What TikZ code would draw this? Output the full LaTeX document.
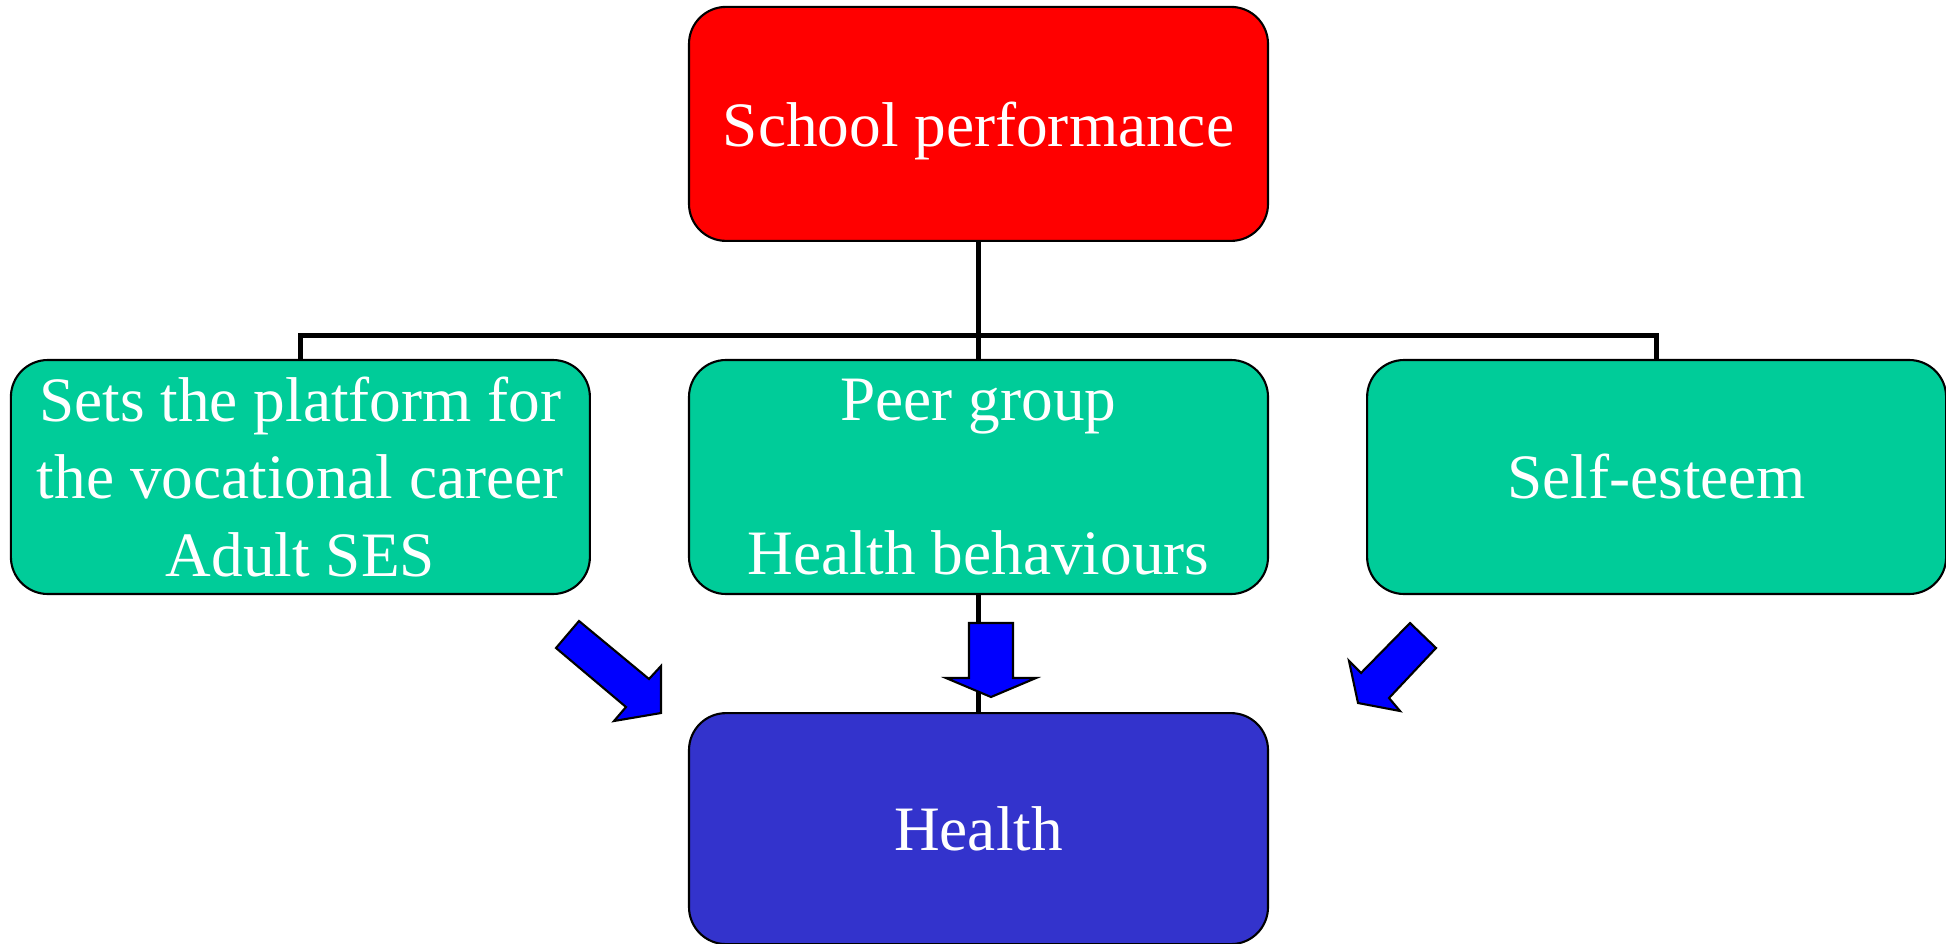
\documentclass[tikz,border=0pt]{standalone}
\usepackage{fontspec}
\setmainfont{Liberation Serif}
\usetikzlibrary{positioning,calc}

\definecolor{schoolred}{HTML}{FF0000}
\definecolor{boxgreen}{HTML}{00CC99}
\definecolor{healthblue}{HTML}{3333CC}
\definecolor{arrowblue}{HTML}{0000FF}

\tikzset{
  box/.style={draw=black, line width=0.6pt, rounded corners=0.37cm,
    minimum width=5.79cm, minimum height=2.34cm, inner sep=0pt,
    align=center, text=white, font=\fontsize{18}{22}\selectfont},
  conn/.style={draw=black, line width=1.4pt},
  blockarrow/.style={draw=black, line width=0.6pt, fill=arrowblue}
}

\begin{document}
\begin{tikzpicture}
  \useasboundingbox (0, 0) rectangle (19.46, 9.43);

  \node[box, fill=boxgreen] (peer) at (9.785, 4.66)
    {Peer group\\[22pt]Health behaviours};
  \node[box, fill=boxgreen, left=0.97cm of peer] (platform)
    {Sets the platform for\\the vocational career\\Adult SES};
  \node[box, fill=boxgreen, right=0.97cm of peer] (esteem) {Self-esteem};
  \node[box, fill=schoolred, text depth=0pt, above=1.17cm of peer] (school)
    {School performance};
  \node[box, fill=healthblue, minimum height=2.31cm, below=1.17cm of peer]
    (health) {Health};

  % tree from school performance
  \coordinate (hub) at ($(school.south)!0.8!(peer.north)$);
  \draw[conn] (school.south) -- (peer.north);
  \draw[conn] (platform.north) |- (hub) -| (esteem.north);
  \draw[conn] (peer.south) -- (health.north);

  % block arrows towards health
  \draw[blockarrow] (5.79, 3.22) -- (6.49, 2.64) -- (6.61, 2.77)
    -- (6.61, 2.30) -- (6.14, 2.22) -- (6.26, 2.36) -- (5.56, 2.95) -- cycle;
  \draw[blockarrow] (9.69, 3.20) -- (10.13, 3.20) -- (10.13, 2.65)
    -- (10.36, 2.65) -- (9.91, 2.46) -- (9.46, 2.65) -- (9.69, 2.65) -- cycle;
  \draw[blockarrow] (14.10, 3.20) -- (14.36, 2.95) -- (13.89, 2.45)
    -- (14.00, 2.32) -- (13.58, 2.40) -- (13.49, 2.82) -- (13.61, 2.70) -- cycle;
\end{tikzpicture}
\end{document}
